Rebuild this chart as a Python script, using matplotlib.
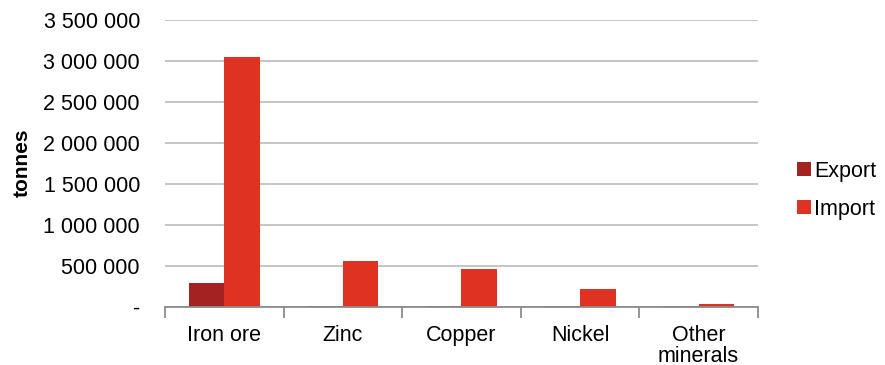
import matplotlib
matplotlib.use("Agg")
import matplotlib.pyplot as plt
import numpy as np
from matplotlib.ticker import FuncFormatter, FixedLocator

categories = ["Iron ore", "Zinc", "Copper", "Nickel", "Other\nminerals"]
export_vals = [285000, 2000, 2000, 2000, 2000]
import_vals = [3040000, 555000, 455000, 210000, 30000]
series_names = ["Export", "Import"]
colors = ["#A52222", "#E03222"]

plt.rcParams["font.family"] = ["Liberation Sans", "DejaVu Sans"]
FS = 15.5

fig = plt.figure(figsize=(8.85, 3.65), dpi=100)
ax = fig.add_axes([0.1864, 0.160, 0.670, 0.786])

x = np.arange(len(categories))
w = 0.3
ax.bar(x - w / 2, export_vals, w, color=colors[0], label=series_names[0], zorder=3)
ax.bar(x + w / 2, import_vals, w, color=colors[1], label=series_names[1], zorder=3)

ax.set_xlim(-0.5, len(categories) - 0.5)
ax.set_ylim(0, 3500000)
ax.set_yticks(np.arange(0, 3500001, 500000))


def fmt(v, pos):
    if v == 0:
        return "-"
    return f"{int(v):,}".replace(",", " ")


ax.yaxis.set_major_formatter(FuncFormatter(fmt))
ax.grid(axis="y", color="#C0C0C0", linewidth=1.3, zorder=0)
ax.tick_params(axis="y", length=0, labelsize=FS, pad=18)

ax.set_xticks(x)
ax.set_xticklabels(categories, fontsize=FS, linespacing=1.0, va="top")
ax.tick_params(axis="x", length=0, pad=13)
ax.xaxis.set_minor_locator(FixedLocator(np.arange(-0.5, len(categories), 1.0)))
ax.tick_params(axis="x", which="minor", length=8, color="#8C8C8C", width=1.3)

for s in ["top", "right", "left"]:
    ax.spines[s].set_visible(False)
ax.spines["bottom"].set_color("#8C8C8C")
ax.spines["bottom"].set_linewidth(1.3)
ax.spines["bottom"].set_zorder(4)

ax.set_ylabel("tonnes", fontsize=15, fontweight="bold", labelpad=8)

ax.legend(loc="center left", bbox_to_anchor=(1.052, 0.405), frameon=False,
          fontsize=FS, handlelength=0.62, handleheight=0.62, handletextpad=0.15,
          labelspacing=0.8, borderaxespad=0)

fig.savefig("out.png", dpi=100)
